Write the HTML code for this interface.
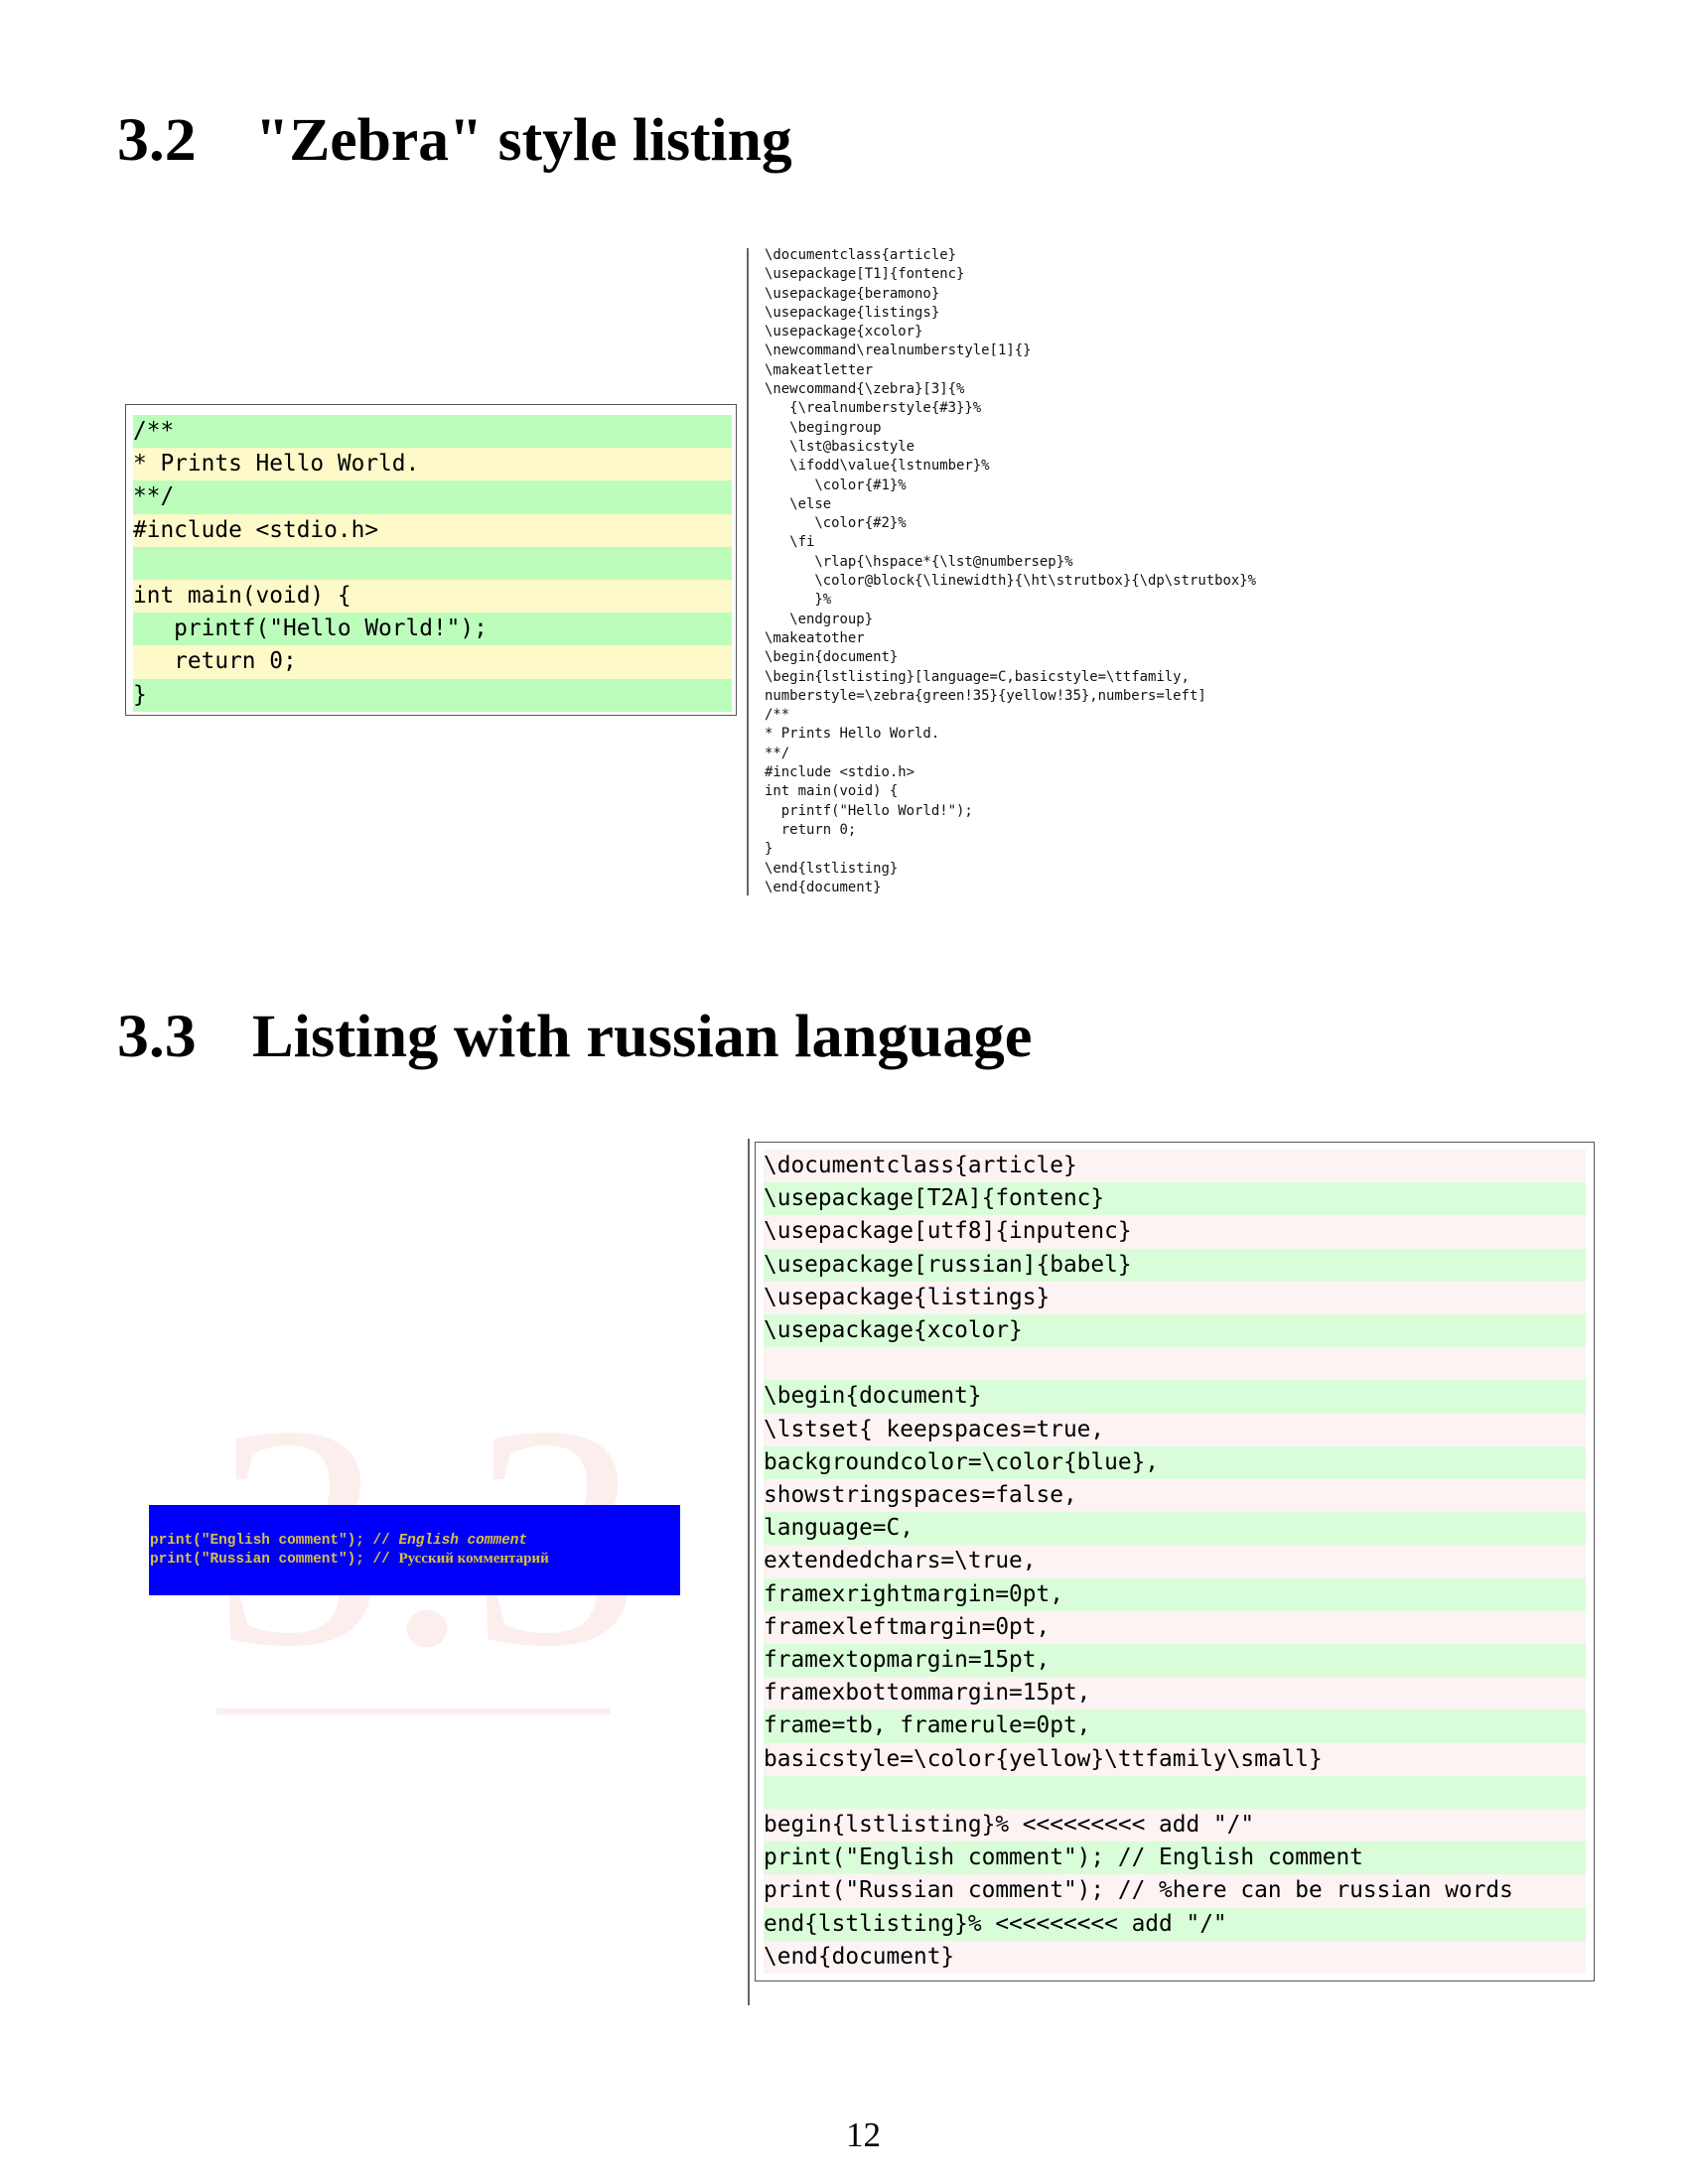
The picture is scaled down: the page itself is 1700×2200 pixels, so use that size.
<!DOCTYPE html>
<html><head><meta charset="utf-8"><style>
body{margin:0;width:1700px;height:2200px;background:#fff;position:relative;overflow:hidden}
.h{position:absolute;font-family:"Liberation Serif",serif;font-weight:bold;font-size:61px;white-space:pre;line-height:1;transform:scaleX(1.045);transform-origin:0 0}
.m{font-family:"DejaVu Sans Mono","Liberation Mono",monospace;white-space:pre}
.row{position:absolute;height:33.3px;line-height:33px;font-size:22.8px;color:#000}
.sm{position:absolute;left:770px;font-size:13.95px;line-height:19.3px;color:#111}
</style></head><body>
<div class="h" style="left:118px;top:111px">3.2</div>
<div class="h" style="left:257px;top:111px;transform:scaleX(1.01)">"Zebra" style listing</div>
<div class="h" style="left:118px;top:1014px">3.3</div>
<div class="h" style="left:254px;top:1014px;transform:scaleX(1.023)">Listing with russian language</div>

<div style="position:absolute;left:126px;top:407px;width:614px;height:312px;border:1.5px solid #555"></div>
<div id="z"></div>

<div style="position:absolute;left:752px;top:250px;width:2px;height:652px;background:#666"></div>
<div class="m sm" style="top:248px">\documentclass{article}
\usepackage[T1]{fontenc}
\usepackage{beramono}
\usepackage{listings}
\usepackage{xcolor}
\newcommand\realnumberstyle[1]{}
\makeatletter
\newcommand{\zebra}[3]{%
   {\realnumberstyle{#3}}%
   \begingroup
   \lst@basicstyle
   \ifodd\value{lstnumber}%
      \color{#1}%
   \else
      \color{#2}%
   \fi
      \rlap{\hspace*{\lst@numbersep}%
      \color@block{\linewidth}{\ht\strutbox}{\dp\strutbox}%
      }%
   \endgroup}
\makeatother
\begin{document}
\begin{lstlisting}[language=C,basicstyle=\ttfamily,
numberstyle=\zebra{green!35}{yellow!35},numbers=left]
/**
* Prints Hello World.
**/
#include &lt;stdio.h&gt;
int main(void) {
  printf("Hello World!");
  return 0;
}
\end{lstlisting}
\end{document}</div>

<div style="position:absolute;left:214px;top:1388px;font-family:'Liberation Serif',serif;font-size:320px;color:#fdeeee;line-height:1;transform:scaleX(1.08);transform-origin:0 0">3.3</div>
<div style="position:absolute;left:218px;top:1721px;width:397px;height:6px;background:#fdeeee"></div>
<div style="position:absolute;left:150px;top:1516px;width:535px;height:91px;background:#0000fa"></div>
<div class="m" style="position:absolute;left:151px;top:1543px;font-family:'Liberation Mono',monospace;font-size:14.4px;line-height:18px;color:#d8c040;font-weight:bold">print("English comment"); // <i>English comment</i>
print("Russian comment"); // <span style="font-family:'Liberation Serif',serif;font-size:15px">Русский комментарий</span></div>

<div style="position:absolute;left:753px;top:1147px;width:2px;height:873px;background:#666"></div>
<div style="position:absolute;left:760px;top:1150px;width:844px;height:844px;border:1.5px solid #555"></div>
<div id="r"></div>

<div style="position:absolute;left:852px;top:2131px;font-family:'Liberation Serif',serif;font-size:35px">12</div>
<script>
var z=["/**","* Prints Hello World.","**/","#include <stdio.h>","","int main(void) {","   printf(\"Hello World!\");","   return 0;","}"];
var h="";
z.forEach(function(t,i){h+='<div class="m row" style="left:134px;width:603px;top:'+(418+i*33.2)+'px;background:'+(i%2?'#fdf9c9':'#bcfdbc')+'">'+t.replace(/</g,'&lt;')+'</div>';});
document.getElementById('z').outerHTML=h;
var r=["\\documentclass{article}","\\usepackage[T2A]{fontenc}","\\usepackage[utf8]{inputenc}","\\usepackage[russian]{babel}","\\usepackage{listings}","\\usepackage{xcolor}","","\\begin{document}","\\lstset{ keepspaces=true,","backgroundcolor=\\color{blue},","showstringspaces=false,","language=C,","extendedchars=\\true,","framexrightmargin=0pt,","framexleftmargin=0pt,","framextopmargin=15pt,","framexbottommargin=15pt,","frame=tb, framerule=0pt,","basicstyle=\\color{yellow}\\ttfamily\\small}","","begin{lstlisting}% <<<<<<<<< add \"/\"","print(\"English comment\"); // English comment","print(\"Russian comment\"); // %here can be russian words","end{lstlisting}% <<<<<<<<< add \"/\"","\\end{document}"];
h="";
r.forEach(function(t,i){h+='<div class="m row" style="left:769px;width:828px;top:'+(1158+i*33.2)+'px;background:'+(i%2?'#d9fdd9':'#fdf3f3')+'">'+t.replace(/</g,'&lt;')+'</div>';});
document.getElementById('r').outerHTML=h;
</script>
</body></html>
